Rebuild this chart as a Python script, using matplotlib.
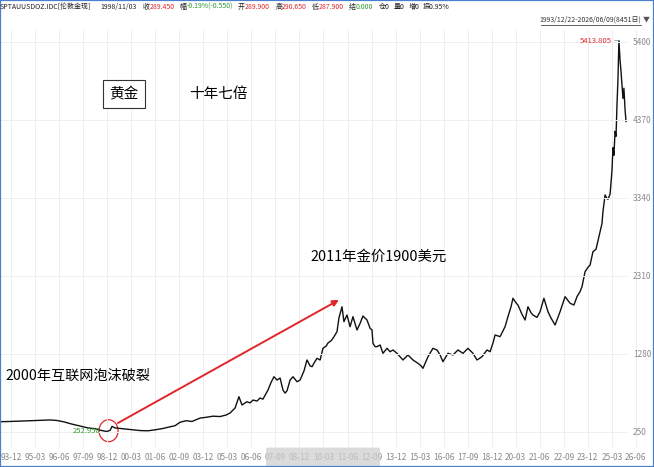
import numpy as np
import matplotlib
matplotlib.use('Agg')
import matplotlib.pyplot as plt
from matplotlib.patches import Ellipse, Rectangle, FancyBboxPatch
from matplotlib.lines import Line2D

plt.rcParams['font.family'] = ['Noto Sans CJK SC', 'DejaVu Sans']

# gold spot trace (x = position on the chart's own time axis)
years = [1993.35, 1993.87, 1994.39, 1994.91, 1995.43, 1995.95, 1996.31, 1996.67, 1997.09, 1997.51,
         1997.92, 1998.29, 1998.55, 1998.70, 1998.91, 1999.07, 1999.17, 1999.33, 1999.59, 2000.11,
         2000.63, 2001.04, 2001.41, 2001.77, 2002.19, 2002.45, 2002.71, 2003.02, 2003.33, 2003.75,
         2004.06, 2004.42, 2004.79, 2005.10, 2005.31, 2005.57, 2005.77, 2005.93, 2006.19, 2006.35,
         2006.50, 2006.71, 2006.87, 2007.02, 2007.28, 2007.44, 2007.59, 2007.75, 2007.91, 2008.06,
         2008.17, 2008.27, 2008.43, 2008.58, 2008.79, 2008.95, 2009.15, 2009.31, 2009.47, 2009.57,
         2009.73, 2009.83, 2009.99, 2010.14, 2010.30, 2010.40, 2010.56, 2010.66, 2010.87, 2010.97,
         2011.13, 2011.23, 2011.39, 2011.55, 2011.70, 2011.91, 2012.07, 2012.22, 2012.43, 2012.59,
         2012.69, 2012.74, 2012.85, 2012.95, 2013.11, 2013.26, 2013.47, 2013.63, 2013.78, 2013.99,
         2014.15, 2014.30, 2014.56, 2014.82, 2015.08, 2015.24, 2015.34, 2015.50, 2015.60, 2015.86,
         2016.07, 2016.23, 2016.38, 2016.64, 2016.90, 2017.16, 2017.42, 2017.68, 2017.94, 2018.15,
         2018.41, 2018.67, 2018.83, 2018.98, 2019.09, 2019.35, 2019.61, 2019.76, 2019.92, 2020.02,
         2020.18, 2020.28, 2020.49, 2020.65, 2020.80, 2020.96, 2021.06, 2021.27, 2021.43, 2021.63,
         2021.84, 2022.00, 2022.21, 2022.36, 2022.47, 2022.73, 2022.99, 2023.19, 2023.35, 2023.51,
         2023.61, 2023.77, 2023.92, 2024.03, 2024.18, 2024.34, 2024.39, 2024.55, 2024.65, 2024.70,
         2024.81, 2024.91, 2024.96, 2025.07, 2025.17, 2025.22, 2025.27, 2025.33, 2025.38, 2025.43,
         2025.48, 2025.53, 2025.59, 2025.64, 2025.69, 2025.74, 2025.79, 2025.85, 2025.90]
price = [382, 385, 390, 395, 400, 405, 398, 380, 350, 325,
         300, 290, 270, 262, 253, 268, 320, 300, 293, 278,
         265, 262, 275, 290, 315, 330, 375, 395, 385, 430,
         440, 455, 450, 470, 497, 563, 712, 603, 646, 630,
         668, 655, 695, 680, 800, 900, 976, 932, 959, 800,
         760, 790, 932, 976, 910, 932, 1050, 1197, 1120, 1108,
         1180, 1219, 1197, 1351, 1380, 1421, 1450, 1483, 1571, 1751,
         1900, 1703, 1791, 1636, 1769, 1593, 1680, 1778, 1725, 1615,
         1593, 1417, 1373, 1373, 1395, 1285, 1351, 1306, 1329, 1285,
         1240, 1197, 1263, 1197, 1153, 1120, 1087, 1180, 1240, 1351,
         1329, 1263, 1174, 1285, 1263, 1329, 1285, 1351, 1285, 1197,
         1240, 1329, 1306, 1420, 1527, 1505, 1637, 1769, 1900, 2012,
         1950, 1923, 1800, 1725, 1900, 1820, 1791, 1760, 1835, 2012,
         1835, 1750, 1659, 1760, 1835, 2033, 1946, 1923, 2033, 2100,
         2165, 2363, 2420, 2451, 2627, 2660, 2715, 2891, 3000, 3155,
         3376, 3330, 3319, 3385, 3700, 4000, 3900, 4216, 4150, 4570,
         4900, 5414, 5150, 5005, 4834, 4650, 4785, 4500, 4346]

x_labels = ['93-12', '95-03', '96-06', '97-09', '98-12', '00-03', '01-06', '02-09', '03-12',
            '05-03', '06-06', '07-09', '08-12', '10-03', '11-06', '12-09', '13-12', '15-03',
            '16-06', '17-09', '18-12', '20-03', '21-06', '22-09', '23-12', '25-03', '26-06']
y_ticks = [250, 1280, 2310, 3340, 4370, 5400]

RED = '#e0262b'
GREEN = '#2f9a2f'
GRAY = '#8a8a8a'
DARK = '#222222'
W, H = 654, 467


def fx(x):
    return x / W


def fy(y):
    return 1 - y / H


fig = plt.figure(figsize=(6.54, 4.67), dpi=100)
ax = fig.add_axes([0, fy(447), 1, (447 - 30) / H])

x_pos = [(1900 if int(s[:2]) > 50 else 2000) + int(s[:2]) + (int(s[3:]) - 1) / 12 for s in x_labels]
ax.set_xlim(1993.345, 1993.345 + W / 19.23)
ax.set_ylim(48, 5554)

ax.plot(years, price, color='#111111', lw=1.0)

ax.set_xticks(x_pos)
ax.set_xticklabels(x_labels, fontsize=6, color=GRAY)
ax.yaxis.tick_right()
ax.set_yticks(y_ticks)
ax.set_yticklabels([str(v) for v in y_ticks], fontsize=6, color=GRAY)
ax.tick_params(axis='both', length=0)
ax.tick_params(axis='x', pad=4)
ax.tick_params(axis='y', pad=-15)
for lab in ax.get_yticklabels():
    lab.set_horizontalalignment('left')
ax.grid(axis='x', color='#efefef', lw=0.7)
x_right = 1993.345 + 627 / 19.23
ax.hlines(y_ticks, ax.get_xlim()[0], x_right, color='#efefef', lw=0.7)
for s in ax.spines.values():
    s.set_visible(False)

# low / high markers
years_a = np.array(years)
price_a = np.array(price)
i_lo = int(np.argmin(price_a))
i_hi = int(np.argmax(price_a))
ax.annotate('252.950', xy=(years_a[i_lo], price_a[i_lo]), xytext=(-5, 0),
            textcoords='offset points', ha='right', va='center', fontsize=5.5, color=GREEN)
ax.annotate('5413.805', xy=(years_a[i_hi], price_a[i_hi]), xytext=(-5, 0),
            textcoords='offset points', ha='right', va='center', fontsize=5.5, color=RED,
            arrowprops=dict(arrowstyle='-', color='#9a9a9a', lw=0.6, shrinkA=0, shrinkB=0))

# hand drawn circle and arrow
ax.add_patch(Ellipse((years_a[i_lo] + 0.08, price_a[i_lo] + 10), 0.99, 290,
                     fill=False, ec=RED, lw=0.9))
ax.annotate('', xy=(2010.97, 1990), xytext=(1999.48, 365),
            arrowprops=dict(arrowstyle='-|>', color=RED, lw=1.4, mutation_scale=9,
                            shrinkA=0, shrinkB=0))

# labels written on the chart
fig.text(fx(124), fy(94), '黄金', fontsize=10.5, ha='center', va='center',
         bbox=dict(boxstyle='square,pad=0.45', fc='white', ec='#333333', lw=0.8))
fig.text(fx(218), fy(94), '十年七倍', fontsize=10.5, ha='center', va='center')
fig.text(fx(310), fy(257), '2011年金价1900美元', fontsize=10.4, ha='left', va='center')
fig.text(fx(5), fy(376), '2000年互联网泡沫破裂', fontsize=10.2, ha='left', va='center')

# header strip, laid out left to right
header = [('SPTAUUSDOZ.IDC[伦敦金现]', DARK, 9), ('1998/11/03', DARK, 6),
          ('收', DARK, 0), ('289.450', RED, 5), ('幅', DARK, 0), ('-0.19%(-0.550)', GREEN, 5),
          ('开', DARK, 0), ('289.900', RED, 5), ('高', DARK, 0), ('290.650', RED, 5),
          ('低', DARK, 0), ('287.900', RED, 5), ('结', DARK, 0), ('0.000', GREEN, 5),
          ('仓0', DARK, 4), ('量0', DARK, 4), ('增0', DARK, 4), ('振0.95%', DARK, 0)]
renderer = fig.canvas.get_renderer()
hx = 0
for txt, col, gap in header:
    t = fig.text(fx(hx), fy(7), txt, fontsize=5, color=col, ha='left', va='center')
    hx += t.get_window_extent(renderer).width + gap

fig.text(fx(641), fy(20), '1993/12/22-2026/06/09(8451日)', fontsize=5, color='#333333',
         ha='right', va='center')
fig.text(fx(650), fy(20), '▼', fontsize=5, color='#555555', ha='right', va='center')
fig.add_artist(Line2D([fx(541), fx(641)], [fy(24.5), fy(24.5)], color='#444444', lw=0.6))

# blurred watermark over the axis labels
fig.add_artist(FancyBboxPatch((fx(268), fy(466)), fx(110), 17 / H, boxstyle='round,pad=0.003',
                              transform=fig.transFigure, fc='#cfcfcf', ec='none', alpha=0.75))

# window border
fig.add_artist(Rectangle((0, 0), 1, 1, transform=fig.transFigure, fill=False,
                         ec='#4a7fd0', lw=1.6))

fig.savefig('out.png', dpi=100)
